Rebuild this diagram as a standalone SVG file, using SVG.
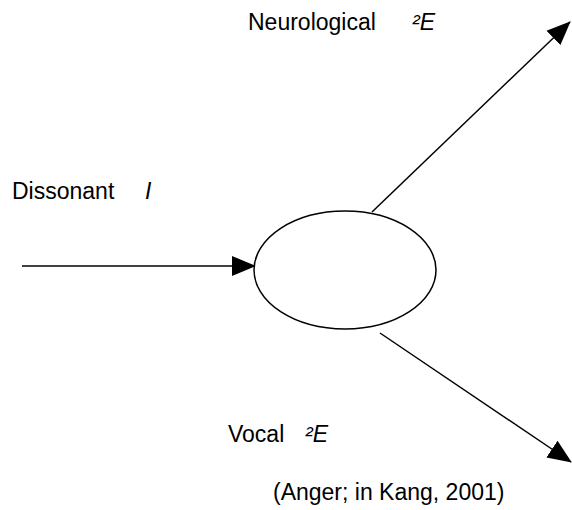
<svg xmlns="http://www.w3.org/2000/svg" width="572" height="510" viewBox="0 0 572 510">
<style>
text{font-family:"Liberation Sans",Arial,sans-serif;font-size:23px;fill:#000}
.i{font-style:italic}
.c{stroke:#000;stroke-width:1.5;fill:none}
</style>
<defs>
<marker id="ah" markerUnits="userSpaceOnUse" markerWidth="24" markerHeight="22" refX="23" refY="10" orient="auto" viewBox="0 0 24 20">
<path d="M0,0 L24,10 L0,20 Z" fill="#000"/>
</marker>
</defs>
<g id="connectors">
<line class="c" x1="22" y1="266" x2="255" y2="266" marker-end="url(#ah)"/>
<line class="c" x1="372" y1="212" x2="570" y2="22" marker-end="url(#ah)"/>
<line class="c" x1="380" y1="333" x2="571" y2="462" marker-end="url(#ah)"/>
</g>
<g id="node">
<ellipse cx="345" cy="270" rx="91" ry="59" fill="#fff" stroke="#000" stroke-width="1.5"/>
</g>
<g id="labels">
<text x="248" y="30">Neurological</text>
<text x="412" y="30" class="i">²E</text>
<text x="12" y="199">Dissonant</text>
<text x="145" y="199" class="i">I</text>
<text x="228" y="442">Vocal</text>
<text x="305" y="442" class="i">²E</text>
<text x="273" y="500">(Anger; in Kang, 2001)</text>
</g>
</svg>
